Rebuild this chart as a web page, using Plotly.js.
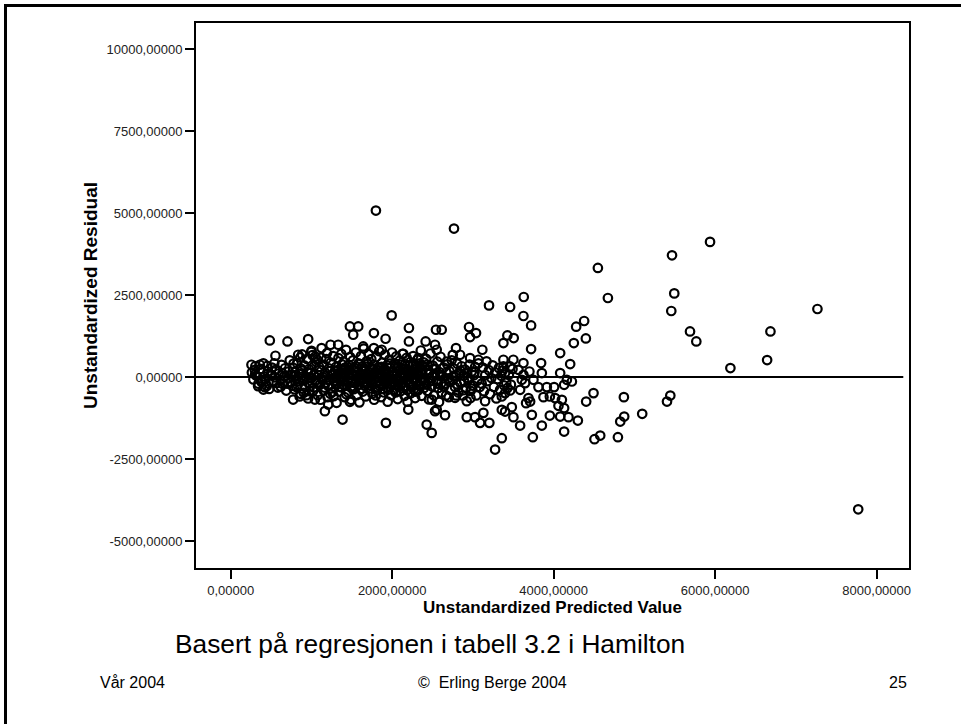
<!DOCTYPE html>
<html>
<head>
<meta charset="utf-8">
<script src="https://cdn.plot.ly/plotly-3.0.1.min.js"></script>
<style>
html,body{margin:0;padding:0;background:#fff;}
#page{position:relative;width:961px;height:724px;overflow:hidden;font-family:"Liberation Sans",Arial,sans-serif;}
#chart{position:absolute;left:0;top:0;width:961px;height:724px;}
.rule{position:absolute;background:#000;}
.txt{position:absolute;white-space:nowrap;color:#000;line-height:1;}
</style>
</head>
<body>
<div id="page">
  <div id="chart"></div>
  <div class="rule" style="left:4px;top:4px;width:957px;height:3px"></div>
  <div class="rule" style="left:4px;top:4px;width:3px;height:720px"></div>
  <div class="txt" style="left:175px;top:631px;font-size:26.3px">Basert på regresjonen i tabell 3.2 i Hamilton</div>
  <div class="txt" style="left:100px;top:675px;font-size:16px">Vår 2004</div>
  <div class="txt" style="left:418px;top:675px;font-size:16px">©&nbsp; Erling Berge 2004</div>
  <div class="txt" style="left:889px;top:675px;font-size:16px">25</div>
</div>
<script>
// Residuals against predicted values (Concord water use regression).
// Spread-out cases, read one by one.
const sparsePredicted = [
  4547,4671,5465,5936,5493,5456,5688,5766,6684,7266,6643,6188,7771,3629,3460,3625,3720,3426,3505,3377,
  3720,4377,4278,4398,4249,4080,4204,3844,3853,4080,4163,4225,4129,3625,3500,3377,3460,3563,3377,3699,
  3625,3605,3749,3646,3584,3811,3915,4005,3460,3398,3357,3873,3952,4018,3687,3708,3658,4101,4059,4129,
  3481,3357,3398,3729,3952,4080,4183,3501,4299,3584,3853,4129,3741,3357,3274,4493,4402,4869,4873,4824,
  5096,5444,5403,4505,4576,4795,1798,2765,3199,484,703,959,554,257,360,298,1001,1125,1236,1331,
  1476,1579,1517,1641,835,1070,1993,1773,2207,2542,2613,2951,3038,2964,1918,2207,2414,2530,2551,1773,
  1869,3116,2790,2840,2137,2323,2675,3067,2964,773,959,1042,1166,1207,1311,1476,1385,339,422,1922,
  2427,2489,2551,2654,2530,2199,2489,2923,3026,3129,3088,3203,3150,2923,2778
];
const sparseResidual = [
  3328,2412,3712,4122,2552,2015,1392,1087,1392,2076,519,275,-4030,2442,2137,1862,1575,1270,1191,1038,
  855,1710,1536,1178,1038,733,397,427,122,122,-82,-134,-235,427,528,528,324,223,324,171,
  70,-82,-82,-183,-388,-305,-305,-305,-409,-488,-592,-611,-592,-641,-641,-745,-794,-693,-876,-946,
  -916,-998,-1050,-1151,-1172,-1203,-1221,-1221,-1325,-1478,-1478,-1661,-1832,-1862,-2210,-488,-745,-611,-1203,-1356,
  -1120,-562,-745,-1893,-1783,-1832,5077,4528,2186,1117,1087,1160,650,376,376,223,803,885,986,986,
  1545,1545,1291,934,681,528,1881,1343,1496,1444,1444,1527,1343,1221,1169,1087,1087,986,833,885,
  833,833,885,681,711,580,476,528,580,-684,-653,-684,-1038,-837,-785,-754,-1294,-275,-305,-1395,
  -1447,-1701,-989,-1160,-1038,-989,-684,-1221,-1221,-1090,-1395,-1395,-733,-733,-632
];

// Dense band of small households around the zero line.
const densePredicted = [
  262,281,305,318,344,367,389,404,421,447,458,476,492,511,533,551,563,584,595,617,629,641,664,673,688,709,716,302,452,619,540,405,
  731,744,763,769,788,794,811,823,829,847,861,866,884,893,909,921,927,944,952,969,975,993,1004,1012,1029,1036,1053,1059,1077,1083,
  1099,1106,1123,1129,1146,1152,1169,1176,1192,1198,1216,1222,1239,1245,1263,1268,1286,1291,778,853,937,998,1113,1183,1257,884,1047,963,1141,1233,
  812,905,1020,1160,1275,
  1303,1317,1326,1334,1341,1351,1358,1369,1377,1386,1392,1403,1410,1421,1428,1437,1443,1455,1462,1473,1479,1489,1497,1508,1514,1524,1531,1543,1549,1559,
  1566,1578,1584,1594,1603,1613,1618,1629,1637,1648,1654,1664,1671,1683,1689,1699,1707,1718,1724,1734,1741,1753,1759,1769,1776,1788,1795,1804,1811,1823,
  1829,1839,1847,1858,1864,1874,1881,1893,1899,1909,1917,1928,1934,1944,1951,1963,1969,1979,1987,1998,2004,2014,2021,2033,2039,2049,2057,2068,2074,2084,
  2091,2103,2109,2119,2127,2138,2144,2154,2161,2173,2179,2189,2197,2208,2214,2224,2231,2243,2249,2259,2267,2278,2284,2294,2301,2313,2319,2329,2336,2348,
  2354,2364,2371,2383,2389,
  1312,1346,1379,1398,1431,1466,1502,1519,1553,1588,1606,1641,1659,1694,1712,1747,1762,1797,1815,1851,1867,1887,1919,1937,1957,1972,1992,2026,2043,2061,
  2079,2097,2114,2133,2149,2167,2184,2201,2219,2237,2252,2272,2289,2306,2324,2341,2359,2376,2394,
  2408,2421,2437,2449,2462,2474,2490,2503,2517,2528,2545,2559,2571,2586,2598,2612,2626,2638,2655,2667,2681,2694,2709,2722,2736,2748,2763,2777,2790,2804,
  2819,2832,2846,2860,2873,2887,2901,2916,2929,2944,2958,2971,2985,2999,3013,3026,3041,3055,3068,3084,2433,2519,2608,2700,2792,2880,2970,2455,2580,2750,
  3108,3122,3137,3152,3168,3181,3197,3212,3228,3243,3259,3274,3290,3305,3320,3336,3351,3367,3383,3398,3412,3428,3445,3470,3490
];
const denseResidual = [
  140,-70,330,40,-200,250,-110,420,20,-270,170,-360,80,290,-140,-10,230,-320,110,-80,370,-200,30,270,-410,-30,170,80,340,-290,420,-380,
  510,-150,70,290,-370,150,-50,420,-240,100,600,-510,200,-100,360,-290,10,550,-160,240,-430,130,-30,670,-320,340,-100,460,-550,60,
  220,-230,590,-50,370,-410,130,-180,730,-610,270,-70,440,-340,80,640,-140,190,410,-590,-550,770,-690,550,-460,690,630,-20,0,-510,
  -300,-480,-420,-320,-580,
  310,-220,90,580,-440,150,-70,710,-320,240,-130,460,-610,40,830,-250,180,-470,370,-30,610,-690,100,-170,510,-370,280,-50,750,-550,
  140,-240,420,-770,50,640,-110,320,-440,870,-40,210,-590,480,-200,90,700,-350,250,-80,550,-510,30,370,-690,160,-140,610,-400,290,
  -20,790,-270,120,-610,440,-80,230,-470,680,10,-320,360,-750,100,530,-180,270,-550,750,-50,180,-390,420,-240,630,50,-670,310,-120,
  500,-430,140,-10,710,-290,250,-570,400,-100,590,-750,80,330,-210,460,-490,170,-40,640,-370,230,-640,370,-130,530,-410,60,290,-250,
  810,-570,130,-60,450,
  20,-300,390,-20,-520,230,-350,60,330,-120,-360,170,-260,400,-30,-180,260,-560,80,-200,310,-360,150,-90,-380,410,-230,90,-470,260,
  -300,30,380,-160,-20,250,-390,-80,110,-310,350,-20,-440,160,-250,420,-60,230,-330,
  -150,560,-420,210,-40,720,-280,350,-560,90,-110,470,-330,150,620,-470,20,290,-200,-560,390,-40,180,-390,510,-100,260,-300,60,410,
  -470,130,-190,330,-560,40,230,-330,110,-80,380,-420,170,-260,60,310,-560,-110,420,-300,380,260,-180,-610,-560,-400,-640,-680,-760,680,
  -200,290,-430,60,480,-120,210,-520,-30,360,-300,140,-650,-60,280,-390,40,200,-250,130,-170,-330,70,-230,250
];

// Innermost core close to zero, where the circles overlap into a solid band.
const corePredicted = [
  840,870,915,950,985,1030,1065,1095,1135,1170,1205,1240,1280,1310,1330,1362,1395,1415,1448,1470,
  1492,1525,1548,1572,1590,1622,1645,1668,1690,1715,1744,1766,1790,1812,1834,1860,1884,1905,1926,1950,
  1975,1996,2018,2040,2066,2088,2110,2130,2158,2180,2206,2228,2254,2276,2300,2322,2346,2372,2398,2425,
  2452,2478,2505,2540,2565,2600,2640,2672,2715,2758,2800,2845,2890,2935,2980,3020,380,420,510,570,
  640,700,760,790
];
const coreResidual = [
  -120,260,-60,150,-280,70,-190,310,-90,40,-260,190,-30,-120,220,30,-240,290,-90,120,
  -290,190,-190,260,-30,90,-150,320,-60,140,-270,60,-330,200,-120,300,40,-160,200,-10,
  -300,160,-150,330,-60,190,-230,90,-300,210,-150,20,-280,130,-40,200,-110,330,-30,-230,
  90,-120,40,250,-200,70,-290,140,-150,30,-220,200,-130,-20,-350,150,-150,-60,60,-180,
  120,-200,-260,30
];

const predicted = sparsePredicted.concat(densePredicted, corePredicted);
const residual = sparseResidual.concat(denseResidual, coreResidual);

const xTickVals = [0, 2000, 4000, 6000, 8000];
const xTickText = ['0,00000', '2000,00000', '4000,00000', '6000,00000', '8000,00000'];
const yTickVals = [-5000, -2500, 0, 2500, 5000, 7500, 10000];
const yTickText = ['-5000,00000', '-2500,00000', '0,00000', '2500,00000', '5000,00000', '7500,00000', '10000,00000'];

const fontFamily = '"Liberation Sans", Arial, sans-serif';

const trace = {
  type: 'scatter',
  mode: 'markers',
  x: predicted,
  y: residual,
  marker: {symbol: 'circle-open', size: 8.5, color: '#000', line: {width: 2.2, color: '#000'}},
  hoverinfo: 'x+y'
};

const axisCommon = {
  showline: true, mirror: true, linecolor: '#000', linewidth: 2,
  ticks: 'outside', ticklen: 9, tickwidth: 2, tickcolor: '#000',
  showgrid: false, zeroline: false,
  tickfont: {family: fontFamily, size: 13, color: '#222'},
  tickmode: 'array'
};

const layout = {
  width: 961, height: 724,
  margin: {l: 196, r: 52, t: 23, b: 156},
  paper_bgcolor: 'rgba(0,0,0,0)', plot_bgcolor: '#fff',
  showlegend: false,
  font: {family: fontFamily, color: '#000'},
  xaxis: Object.assign({}, axisCommon, {
    range: [-430, 8400],
    tickvals: xTickVals, ticktext: xTickText,
    title: {text: 'Unstandardized Predicted Value', font: {family: fontFamily, size: 17, weight: 'bold', color: '#000'}, standoff: 5}
  }),
  yaxis: Object.assign({}, axisCommon, {
    range: [-5820, 10795],
    tickvals: yTickVals, ticktext: yTickText,
    title: {text: 'Unstandardized Residual', font: {family: fontFamily, size: 19, weight: 'bold', color: '#000'}, standoff: 4}
  }),
  shapes: [{
    type: 'line', xref: 'paper', yref: 'y',
    x0: 0, x1: 0.992, y0: 0, y1: 0,
    line: {color: '#000', width: 2}
  }]
};

Plotly.newPlot('chart', [trace], layout, {displayModeBar: false, staticPlot: true});
</script>
</body>
</html>
